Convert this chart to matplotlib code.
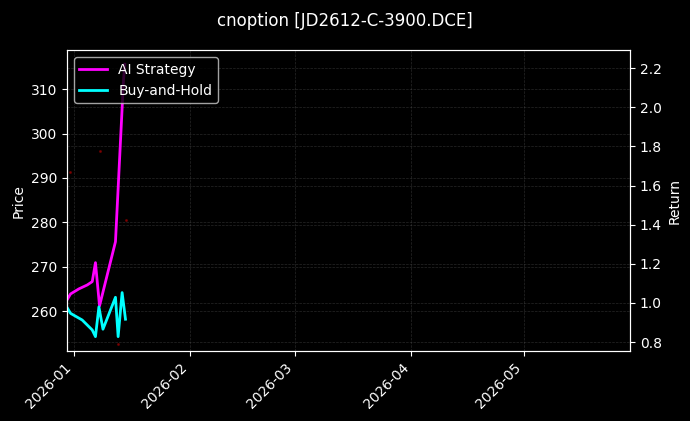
import pandas as pd
import matplotlib
matplotlib.use("Agg")
import matplotlib.pyplot as plt
import matplotlib.dates as mdates

# AI strategy equity curve (return multiple)
ai_times = ["2025-12-30 04:30", "2025-12-31 03:30", "2026-01-02 09:00", "2026-01-04 14:30",
            "2026-01-05 22:20", "2026-01-06 19:00", "2026-01-07 21:00", "2026-01-12 03:00",
            "2026-01-14 06:30", "2026-01-14 14:30"]
ai_returns = [1.015, 1.046, 1.072, 1.092, 1.109, 1.206, 0.985, 1.313, 2.139, 2.22]

# buy-and-hold curve
bh_times = ["2025-12-30 04:30", "2025-12-31 03:30", "2026-01-03 06:00", "2026-01-05 22:20",
            "2026-01-06 19:00", "2026-01-07 17:00", "2026-01-08 19:00", "2026-01-12 03:00",
            "2026-01-12 20:00", "2026-01-13 21:30", "2026-01-14 19:00"]
bh_returns = [0.978, 0.947, 0.913, 0.862, 0.828, 0.98, 0.866, 1.029, 0.828, 1.053, 0.917]

# faint price ticks
price_times = ["2025-12-31 02:00", "2026-01-08 00:00", "2026-01-12 22:00", "2026-01-14 22:00"]
prices = [291.4, 296.0, 252.5, 280.5]

plt.style.use("dark_background")
fig, ax = plt.subplots(figsize=(6.9, 4.21), dpi=100)
fig.subplots_adjust(left=0.097, right=0.913, bottom=0.166, top=0.881)

ax.scatter(pd.to_datetime(price_times), prices, s=1.5, color="red", alpha=0.3, zorder=1)
ax.set_ylabel("Price")
ax.set_ylim(251, 318.8)
ax.grid(True, linestyle="--", linewidth=0.5, alpha=0.3, color="gray")

ax2 = ax.twinx()
ax2.plot(pd.to_datetime(ai_times), ai_returns, color="magenta", linewidth=2, label="AI Strategy")
ax2.plot(pd.to_datetime(bh_times), bh_returns, color="cyan", linewidth=2, label="Buy-and-Hold")
ax2.set_ylabel("Return")
ax2.set_ylim(0.754, 2.292)
ax2.grid(True, linestyle="--", linewidth=0.5, alpha=0.3, color="gray")

ax.set_xlim(pd.Timestamp("2025-12-30 04:30"), pd.Timestamp("2026-05-29 06:00"))
ax.xaxis.set_major_locator(mdates.MonthLocator())
ax.xaxis.set_major_formatter(mdates.DateFormatter("%Y-%m"))
plt.setp(ax.get_xticklabels(), rotation=45, ha="right")

ax2.legend(loc="upper left")
fig.suptitle("cnoption [JD2612-C-3900.DCE]", fontsize=12, y=0.972)

plt.savefig("out.png")
